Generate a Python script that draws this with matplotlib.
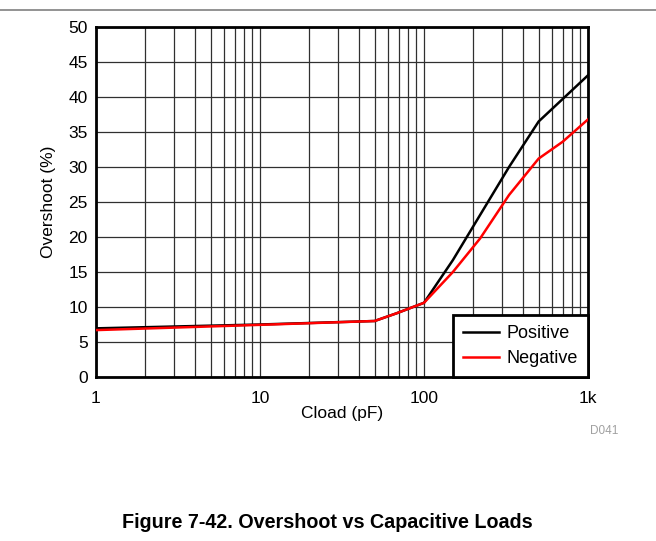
import numpy as np
import matplotlib
matplotlib.use('Agg')
from matplotlib import pyplot as plt
from matplotlib import ticker
from matplotlib import rcParams

rcParams['font.family'] = ['Liberation Sans', 'DejaVu Sans']

#%% data
cload_pos = [1, 10, 50, 68, 100, 150, 330, 500, 1000]
overshoot_pos = [6.95, 7.5, 8.0, 9.1, 10.6, 16.7, 30.0, 36.5, 43.1]

cload_neg = [1, 10, 50, 68, 100, 150, 220, 330, 500, 700, 1000]
overshoot_neg = [6.7, 7.45, 8.0, 9.1, 10.6, 15.0, 19.8, 26.0, 31.2, 33.6, 36.8]

xticks = [1, 10, 100, 1000]
xticklabels = ['1', '10', '100', '1k']
yticks = np.arange(0, 55, 5)

#%%
fig = plt.figure(figsize=(6.56, 5.41), dpi=100)
ax = fig.add_axes([96/656, 1-377/541, 492/656, 350/541])

ax.plot(cload_pos, overshoot_pos, color='k', lw=1.8, label='Positive', zorder=3)
ax.plot(cload_neg, overshoot_neg, color='#ff0000', lw=1.8, label='Negative', zorder=3)

ax.set_xscale('log')
ax.set_xlim(1, 1000)
ax.set_ylim(0, 50)
ax.set_xticks(xticks)
ax.set_xticklabels(xticklabels)
ax.xaxis.set_minor_locator(ticker.LogLocator(base=10, subs=np.arange(2, 10)))
ax.xaxis.set_minor_formatter(ticker.NullFormatter())
ax.set_yticks(yticks)

ax.grid(True, which='both', axis='x', color='#303030', lw=0.9)
ax.grid(True, which='major', axis='y', color='#303030', lw=0.9)
ax.tick_params(which='both', length=0, labelsize=12.5)
ax.tick_params(axis='x', pad=10)
ax.tick_params(axis='y', pad=6)
for sp in ax.spines.values():
    sp.set_linewidth(2)

ax.set_xlabel('Cload (pF)', fontsize=12.5, labelpad=0)
ax.set_ylabel('Overshoot (%)', fontsize=12.5, labelpad=9)

leg = ax.legend(loc='lower right', fontsize=13, fancybox=False, edgecolor='k',
                framealpha=1, borderaxespad=0, handlelength=1.95, handletextpad=0.45,
                labelspacing=0.45, borderpad=0.55)
leg.get_frame().set_linewidth(2)

fig.text(604/656, 1-431/541, 'D041', fontsize=8.5, color='#a0a0a0', ha='center', va='center')
fig.text(327/656, 1-523/541, 'Figure 7-42. Overshoot vs Capacitive Loads', fontsize=14.2,
         fontweight='bold', ha='center', va='center')
fig.add_artist(plt.Line2D([0, 1], [1-10/541, 1-10/541], color='#808080', lw=1.2))

fig.savefig('out.png', dpi=100)
